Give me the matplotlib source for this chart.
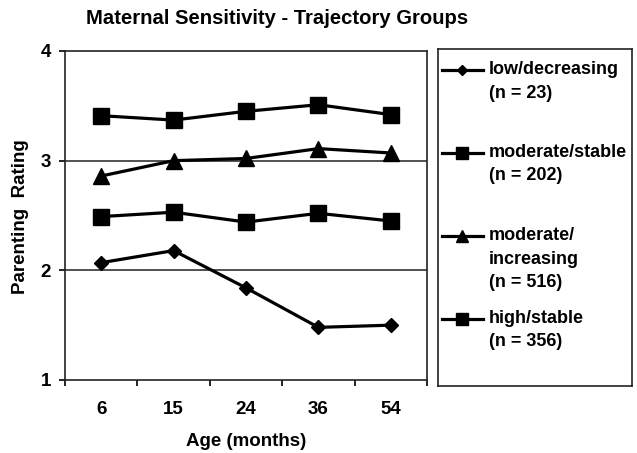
import matplotlib
matplotlib.use("Agg")
import matplotlib.pyplot as plt
from matplotlib.lines import Line2D

plt.rcParams['font.family'] = ['Liberation Sans', 'DejaVu Sans']
plt.rcParams['font.weight'] = 'bold'

ages = ["6", "15", "24", "36", "54"]
low_decreasing = [2.07, 2.18, 1.84, 1.48, 1.50]
moderate_stable = [2.49, 2.53, 2.44, 2.52, 2.45]
moderate_increasing = [2.86, 3.00, 3.02, 3.11, 3.07]
high_stable = [3.41, 3.37, 3.45, 3.51, 3.42]

labels = ["low/decreasing\n(n = 23)",
          "moderate/stable\n(n = 202)",
          "moderate/\nincreasing\n(n = 516)",
          "high/stable\n(n = 356)"]
series = [low_decreasing, moderate_stable, moderate_increasing, high_stable]
markers = ["D", "s", "^", "s"]
msizes = [7.5, 11, 11, 11]

FS = 13.5
W, H = 637, 453
fig = plt.figure(figsize=(W / 100, H / 100), dpi=100)
ax = fig.add_axes([65 / W, 1 - 380 / H, (427 - 65) / W, (380 - 51) / H])

x = list(range(len(ages)))
for vals, m, ms in zip(series, markers, msizes):
    ax.plot(x, vals, color='black', lw=2.3, marker=m, ms=ms, mfc='black', mec='black')

ax.set_xlim(-0.5, len(ages) - 0.5)
ax.set_ylim(1, 4)
ax.set_yticks([1, 2, 3, 4])
ax.set_xticks([i - 0.5 for i in range(len(ages) + 1)])
ax.set_xticklabels([])
ax.set_xticks(x, minor=True)
ax.set_xticklabels(ages, minor=True)
ax.tick_params(axis='x', which='major', direction='out', length=4, width=1.2)
ax.tick_params(axis='x', which='minor', length=0, pad=15, labelsize=FS)
ax.tick_params(axis='y', direction='out', length=4, width=1.2, pad=6, labelsize=FS)
for s in ax.spines.values():
    s.set_linewidth(1.2)
    s.set_color('#222222')
for yv in [2, 3]:
    ax.axhline(yv, color='#222222', lw=1.1, zorder=1)

fig.text(277 / W, 1 - 19 / H, "Maternal Sensitivity - Trajectory Groups",
         ha='center', va='center', fontsize=14.6, fontweight='bold')
fig.text(21 / W, 1 - 217 / H, "Parenting  Rating", rotation=90,
         ha='center', va='center', fontsize=FS, fontweight='bold')
fig.text(246 / W, 1 - 441 / H, "Age (months)", ha='center', va='center',
         fontsize=FS, fontweight='bold')

# legend box
lx0, lx1, ly0, ly1 = 438, 632, 49, 386
lax = fig.add_axes([lx0 / W, 1 - ly1 / H, (lx1 - lx0) / W, (ly1 - ly0) / H])
lax.set_xlim(0, lx1 - lx0)
lax.set_ylim(ly1 - ly0, 0)
lax.set_xticks([])
lax.set_yticks([])
for s in lax.spines.values():
    s.set_linewidth(1.2)
    s.set_color('#222222')

leg_ms = [5.5, 8, 8, 8]
for i, (lab, m, ms) in enumerate(zip(labels, markers, leg_ms)):
    yc = 21 + i * 83
    lax.add_line(Line2D([4, 45], [yc, yc], color='black', lw=2.3))
    lax.add_line(Line2D([24.5], [yc], color='black', marker=m, ms=ms,
                        mfc='black', mec='black'))
    lax.text(51, yc - 9, lab, ha='left', va='top', fontsize=13,
             fontweight='bold', linespacing=1.5)

fig.savefig("out.png", dpi=100)
